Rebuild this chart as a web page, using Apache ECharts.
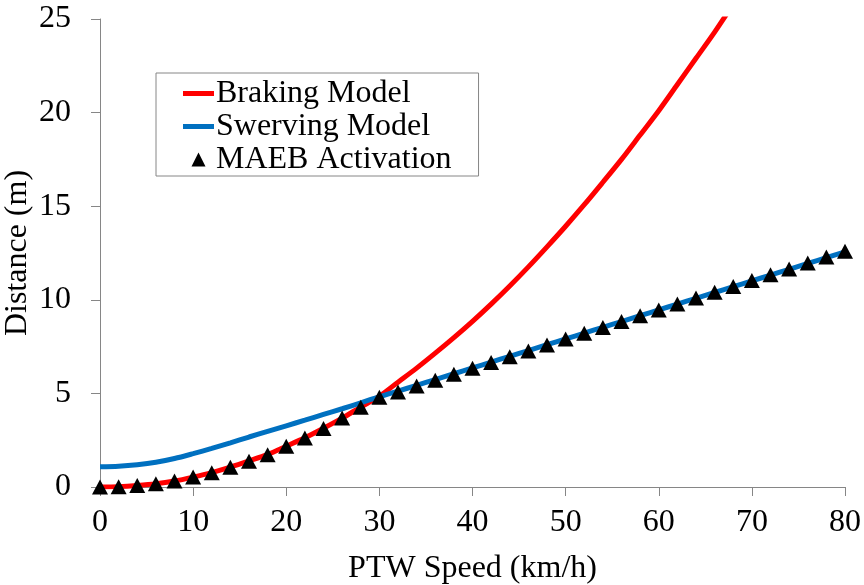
<!DOCTYPE html>
<html>
<head>
<meta charset="utf-8">
<script src="https://cdn.jsdelivr.net/npm/echarts@6/dist/echarts.min.js"></script>
<style>
html, body { margin: 0; padding: 0; background: #fff; }
#chart { width: 864px; height: 585px; }
</style>
</head>
<body>
<div id="chart"></div>
<script>
// speeds in km/h, distances in m
var brakingSpeed = [0, 2, 4, 6, 8, 10, 12, 14, 16, 18, 20, 22, 24, 26, 28, 30, 32, 34,
    36, 38, 40, 42, 44, 46, 48, 50, 52, 54, 56, 58, 60, 62, 64, 66, 68];
var brakingDist = [0, 0.02, 0.08, 0.17, 0.32, 0.53, 0.77, 1.06, 1.39, 1.74, 2.18, 2.63, 3.14, 3.68, 4.27, 4.85,
    5.6, 6.35, 7.15, 7.98, 8.85, 9.77, 10.74, 11.76, 12.83, 13.93, 15.08, 16.28, 17.5, 18.8, 20.1,
    21.5, 22.9, 24.3, 25.8];

var swervingSpeed = [0, 2, 4, 6, 8, 10, 12, 14, 16, 18, 20, 22, 24, 26, 28, 30, 32, 34, 36, 38,
    40, 42, 44, 46, 48, 50, 52, 54, 56, 58, 60, 62, 64, 66, 68, 70, 72, 74, 76, 78, 80];
var swervingDist = [1.08, 1.11, 1.19, 1.32, 1.52, 1.78, 2.06, 2.36, 2.67, 2.97, 3.27, 3.57, 3.88, 4.18, 4.5, 4.82,
    5.12, 5.43, 5.74, 6.05, 6.36, 6.67, 6.98, 7.29, 7.6, 7.91, 8.22, 8.53, 8.84, 9.15, 9.46,
    9.77, 10.08, 10.39, 10.7, 11.01, 11.32, 11.63, 11.94, 12.25, 12.56];

var maebSpeed = swervingSpeed;
var maebDist = [0, 0.02, 0.08, 0.17, 0.32, 0.53, 0.76, 1.06, 1.38, 1.72, 2.18, 2.62, 3.13, 3.68, 4.26, 4.8,
    5.08, 5.39, 5.7, 6.02, 6.34, 6.65, 6.96, 7.27, 7.59, 7.9, 8.21, 8.52, 8.84, 9.15, 9.46,
    9.77, 10.09, 10.4, 10.71, 11.03, 11.34, 11.65, 11.97, 12.28, 12.6];

var xTicks = [0, 10, 20, 30, 40, 50, 60, 70, 80];
var yTicks = [0, 5, 10, 15, 20, 25];

function pairs(xs, ys) {
    var out = [];
    for (var i = 0; i < ys.length; i++) {
        out.push([xs[i], ys[i]]);
    }
    return out;
}

var font = 'Liberation Serif';
var axisGray = '#868686';

var dom = document.getElementById('chart');
var myChart = echarts.init(dom);
var option = {
    animation: false,
    textStyle: { fontFamily: font, color: '#000' },
    grid: { left: 100, right: 19, top: 19, bottom: 98, containLabel: false, outerBoundsMode: 'none' },
    legend: {
        orient: 'vertical',
        left: 156,
        top: 73,
        padding: [4, 27, 0, 27],
        borderColor: axisGray,
        borderWidth: 1,
        itemWidth: 31,
        itemHeight: 14,
        itemGap: 0,
        textStyle: { fontFamily: font, fontSize: 32, color: '#000', lineHeight: 33, padding: [0, 0, 0, -3] },
        data: [
            { name: 'Braking Model', icon: 'path://M0 0H31V5H0Z' },
            { name: 'Swerving Model', icon: 'path://M0 0H31V5H0Z' },
            { name: 'MAEB Activation', icon: 'path://M7 0L14 14H0Z', itemStyle: { color: '#000' } }
        ]
    },
    xAxis: {
        type: 'value',
        min: xTicks[0],
        max: xTicks[xTicks.length - 1],
        interval: xTicks[1] - xTicks[0],
        name: 'PTW Speed (km/h)',
        nameLocation: 'middle',
        nameGap: 66,
        nameMoveOverlap: false,
        nameTextStyle: { fontFamily: font, fontSize: 32, color: '#000' },
        splitLine: { show: false },
        axisLine: { lineStyle: { color: axisGray, width: 1 } },
        axisTick: { length: 9, lineStyle: { color: axisGray } },
        axisLabel: { margin: 20, fontFamily: font, fontSize: 32, color: '#000' }
    },
    yAxis: {
        type: 'value',
        min: yTicks[0],
        max: yTicks[yTicks.length - 1],
        interval: yTicks[1] - yTicks[0],
        name: 'Distance (m)',
        nameLocation: 'middle',
        nameGap: 66,
        nameMoveOverlap: false,
        nameTextStyle: { fontFamily: font, fontSize: 32, color: '#000' },
        splitLine: { show: false },
        axisLine: { show: true, lineStyle: { color: axisGray, width: 1 } },
        axisTick: { show: true, length: 9, lineStyle: { color: axisGray } },
        axisLabel: { margin: 29, fontFamily: font, fontSize: 32, color: '#000' }
    },
    series: [
        {
            name: 'Braking Model',
            type: 'line',
            data: pairs(brakingSpeed, brakingDist),
            symbol: 'none',
            smooth: 0.3,
            clip: true,
            lineStyle: { color: '#ff0000', width: 5 },
            itemStyle: { color: '#ff0000' },
            z: 2
        },
        {
            name: 'Swerving Model',
            type: 'line',
            data: pairs(swervingSpeed, swervingDist),
            symbol: 'none',
            smooth: 0.3,
            lineStyle: { color: '#0070c0', width: 5 },
            itemStyle: { color: '#0070c0' },
            z: 3
        },
        {
            name: 'MAEB Activation',
            type: 'scatter',
            data: pairs(maebSpeed, maebDist),
            symbol: 'triangle',
            symbolSize: [16, 15],
            itemStyle: { color: '#000', opacity: 1 },
            z: 4
        }
    ]
};
myChart.setOption(option);
</script>
</body>
</html>
